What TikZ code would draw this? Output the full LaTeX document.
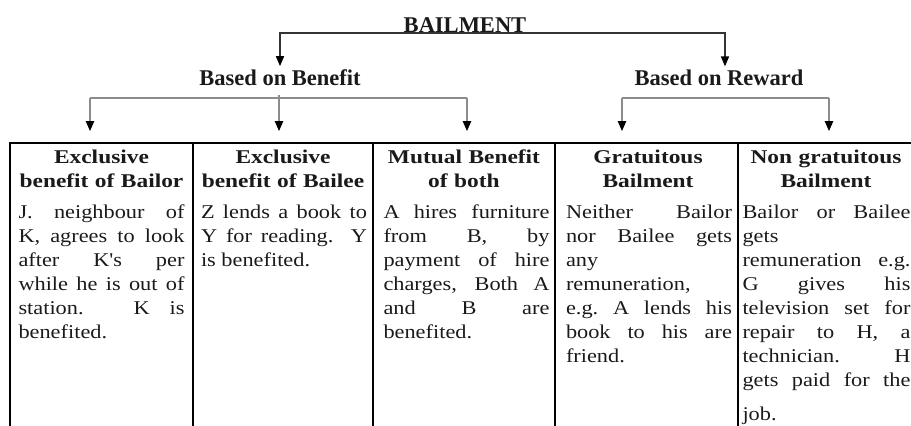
\documentclass[tikz,border=0pt]{standalone}
\usepackage{fontspec}
\setmainfont{Liberation Serif}
\newfontfamily\cellfont[FakeStretch=1.145]{Liberation Serif}
\newfontfamily\headfont[FakeStretch=1.2]{Liberation Serif}
\usetikzlibrary{arrows.meta}
\definecolor{ink}{HTML}{1A1A1A}
\definecolor{dk}{HTML}{333333}
\definecolor{gr}{HTML}{8C8C8C}
\tolerance=10000
\hbadness=10000
\hfuzz=3pt
\begin{document}
\begin{tikzpicture}[x=1pt,y=-1pt,
  every node/.style={inner sep=0pt, outer sep=0pt, text=ink},
  title/.style={font=\bfseries\fontsize{22.5}{27}\selectfont, anchor=base},
  hdr/.style={font=\headfont\bfseries\fontsize{19.5}{24}\selectfont, text width=166pt, align=center, anchor=north, execute at begin node=\strut},
  bodytext/.style={font=\cellfont\fontsize{19.5}{24}\selectfont, text width=166pt, align=justify, anchor=north, execute at begin node=\strut},
  topc/.style={draw=dk, line width=1.6pt, -{Triangle[length=10pt,width=8pt,color=black]}, shorten >=3pt},
  gline/.style={draw=gr, line width=2.2pt},
  garr/.style={draw=gr, line width=2pt, -{Triangle[length=10pt,width=8pt,color=black]}},
  tbl/.style={draw=black, line width=1.6pt}
]
\useasboundingbox (0,0) rectangle (911,426);
\clip (0,0) rectangle (911,426);

% titles
\node[title] (bail) at (465,32) {BAILMENT};
\node[title] (benefit) at (280,85) {Based on Benefit};
\node[title] (reward) at (719,85) {Based on Reward};

% table lines
\draw[tbl] (10,430) -- (10,143) -- (915,143);
\foreach \xx in {193,373,555,738} \draw[tbl] (\xx,143) -- (\xx,430);

% headers
\node[hdr] (h1) at (101.5,146.2) {Exclusive\\benefit of Bailor};
\node[hdr] (h2) at (283,146.2) {Exclusive\\benefit of Bailee};
\node[hdr] (h3) at (464,146.2) {Mutual Benefit\\of both};
\node[hdr] (h4) at (648,146.2) {Gratuitous\\Bailment};
\node[hdr] (h5) at (826,146.2) {Non gratuitous\\Bailment};

% bodies
\node[bodytext] (b1) at (101.5,201.2) {J. neighbour of\linebreak K, agrees to look\linebreak after K's per\linebreak while he is out of\linebreak station. K is\linebreak benefited.};
\node[bodytext] (b2) at (284,201.2) {Z lends a book to\linebreak Y for reading. Y\linebreak is benefited.};
\node[bodytext] (b3) at (466.5,201.2) {A hires furniture\linebreak from B, by\linebreak payment of hire\linebreak charges, Both A\linebreak and B are\linebreak benefited.};
\node[bodytext] (b4) at (649,201.2) {Neither Bailor\linebreak nor Bailee gets\linebreak any\newline remuneration,\newline e.g.\ A lends his\linebreak book to his are\linebreak friend.};
\node[bodytext, text width=168pt] (b5) at (826.5,201.2) {Bailor or Bailee\linebreak gets\newline remuneration e.g.\linebreak G gives his\linebreak television set for\linebreak repair to H, a\linebreak technician. H\linebreak gets paid for the\vspace{10pt}\linebreak job.};

% top connectors
\draw[topc] ([yshift=-1pt]bail.base) -| (benefit.north);
\draw[topc] ([yshift=-1pt]bail.base) -| ([xshift=6pt]reward.north);

% lower connectors
\coordinate (l1) at (90,98);
\coordinate (l2) at (279,98);
\coordinate (l3) at (467,98);
\coordinate (r1) at (622,98);
\coordinate (r2) at (829,98);
\draw[gline] (l1) -- (l3);
\draw[gline] (r1) -- (r2);
\draw[garr, shorten >=15pt] (l1) -- (l1 |- h1.north);
\draw[garr, shorten >=15pt] ([yshift=3pt]l2) -- (l2 |- h2.north);
\draw[garr, shorten >=15pt] (l3) -- (l3 |- h3.north);
\draw[garr, shorten >=15pt] (r1) -- (r1 |- h4.north);
\draw[garr, shorten >=15pt] (r2) -- (r2 |- h5.north);
\end{tikzpicture}
\end{document}
